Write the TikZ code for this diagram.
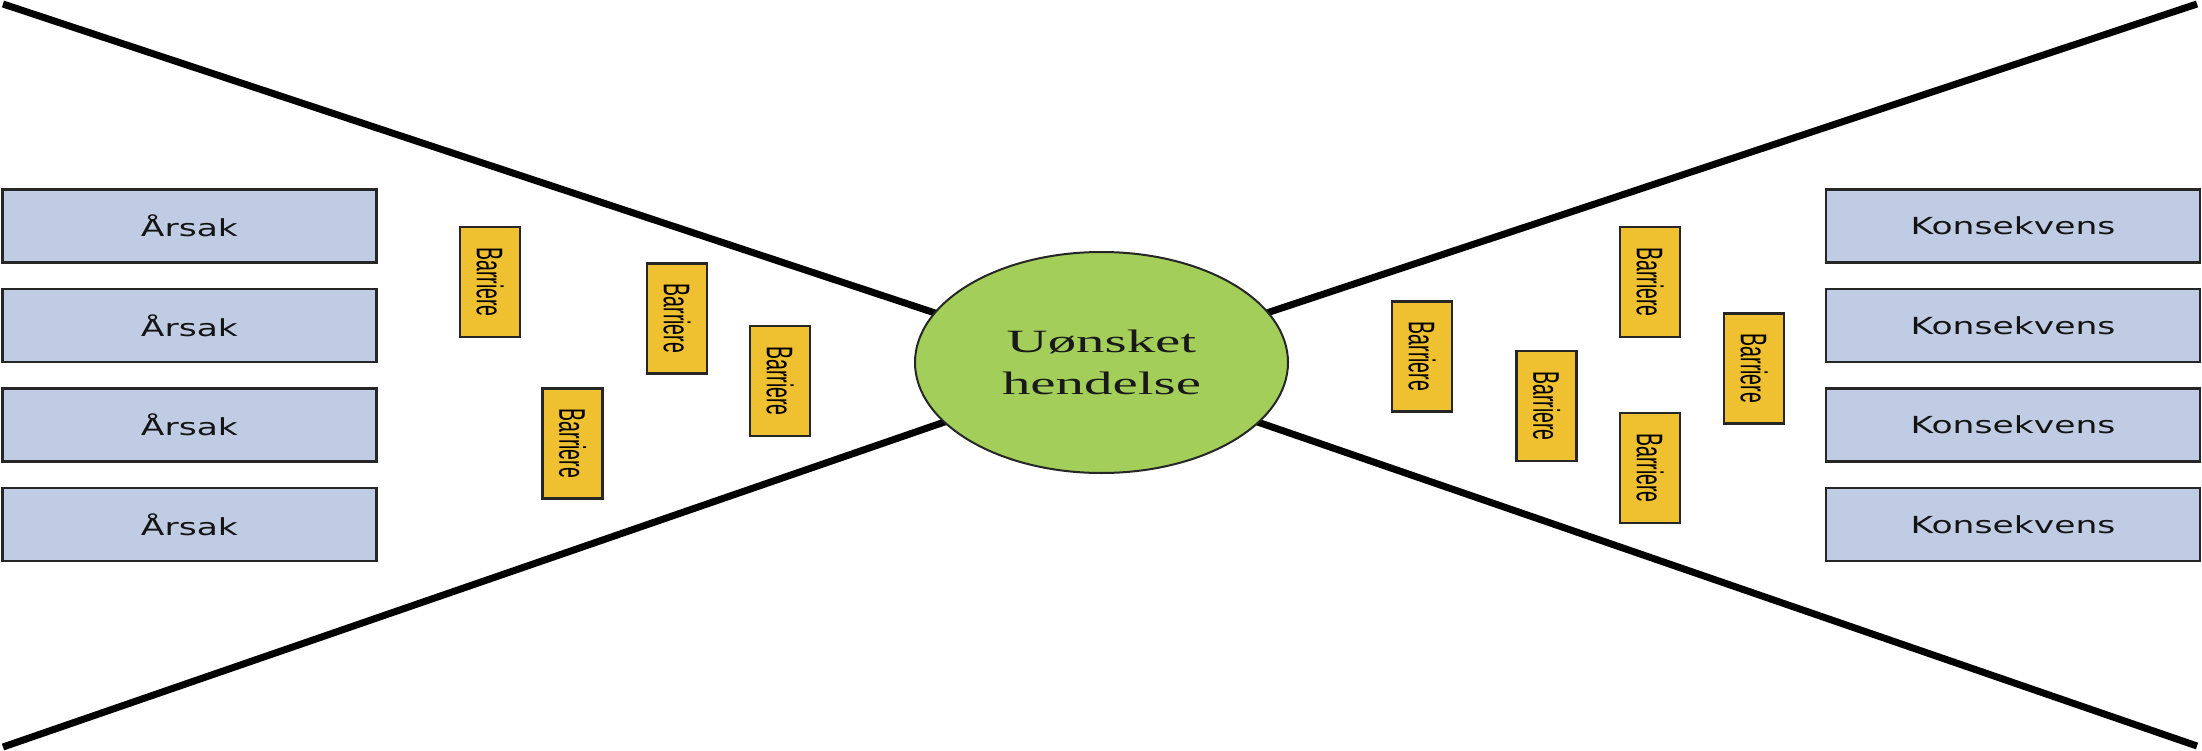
\documentclass[tikz,border=0pt]{standalone}
\usepackage{fontspec}
\setmainfont{DejaVu Sans}
\newfontfamily\serifx{Liberation Serif}
\newfontfamily\arialx{Liberation Sans}
\usetikzlibrary{shapes.geometric}
\definecolor{boxblue}{RGB}{191,204,227}
\definecolor{bargold}{RGB}{239,192,48}
\definecolor{evgreen}{RGB}{163,206,90}
\definecolor{txt}{RGB}{20,20,20}
\newcommand{\bartext}{\rotatebox{-90}{\scalebox{1}[1.9]{\arialx\fontsize{19.5}{22}\selectfont Barriere}}}
\newcommand{\wide}[1]{\scalebox{1.47}[1]{#1}}
\begin{document}
\begin{tikzpicture}[x=1pt,y=-1pt,
  cbox/.style={draw=black!85,line width=2.5pt,fill=boxblue,minimum width=374pt,minimum height=73pt,inner sep=0pt,text=txt,font=\fontsize{23.5}{27}\selectfont},
  barbox/.style={draw=black!85,line width=2.5pt,fill=bargold,minimum width=60pt,minimum height=110pt,inner sep=0pt},
  event/.style={ellipse,draw=black!85,line width=2pt,fill=evgreen,minimum width=373pt,minimum height=221pt,inner sep=0pt,align=center,text=black!90,font=\serifx\fontsize{32.5}{42}\selectfont},
  wing/.style={line width=7pt,black}
]
\useasboundingbox (0,0) rectangle (2202,751);
% wings
\coordinate (hub) at (1101,368);
\coordinate (tl) at (3,4);
\coordinate (bl) at (3,747);
\coordinate (tr) at (2197,4);
\coordinate (br) at (2197,746);
\draw[wing] (tl) -- (hub);
\draw[wing] (bl) -- (hub);
\draw[wing] (tr) -- (hub);
\draw[wing] (br) -- (hub);
% central event
\node[event] (ev) at (1101.5,362.5) {\scalebox{1.75}[1]{Uønsket}\\\scalebox{1.75}[1]{hendelse}};
% causes
\node[cbox] (c1) at (189.5,226) {\wide{Årsak}};
\node[cbox] (c2) at (189.5,325.5) {\wide{Årsak}};
\node[cbox] (c3) at (189.5,425) {\wide{Årsak}};
\node[cbox] (c4) at (189.5,524.5) {\wide{Årsak}};
% consequences
\node[cbox] (k1) at (2013,226) {\wide{Konsekvens}};
\node[cbox] (k2) at (2013,325.5) {\wide{Konsekvens}};
\node[cbox] (k3) at (2013,425) {\wide{Konsekvens}};
\node[cbox] (k4) at (2013,524.5) {\wide{Konsekvens}};
% left barriers
\node[barbox] (lb1) at (490,282) {\bartext};
\node[barbox] (lb2) at (677,318.5) {\bartext};
\node[barbox] (lb3) at (780,381) {\bartext};
\node[barbox] (lb4) at (572.5,443.5) {\bartext};
% right barriers
\node[barbox] (rb1) at (1422,356.5) {\bartext};
\node[barbox] (rb2) at (1546.5,406) {\bartext};
\node[barbox] (rb3) at (1650,282) {\bartext};
\node[barbox] (rb4) at (1650,468) {\bartext};
\node[barbox] (rb5) at (1754,368.5) {\bartext};
\end{tikzpicture}
\end{document}
